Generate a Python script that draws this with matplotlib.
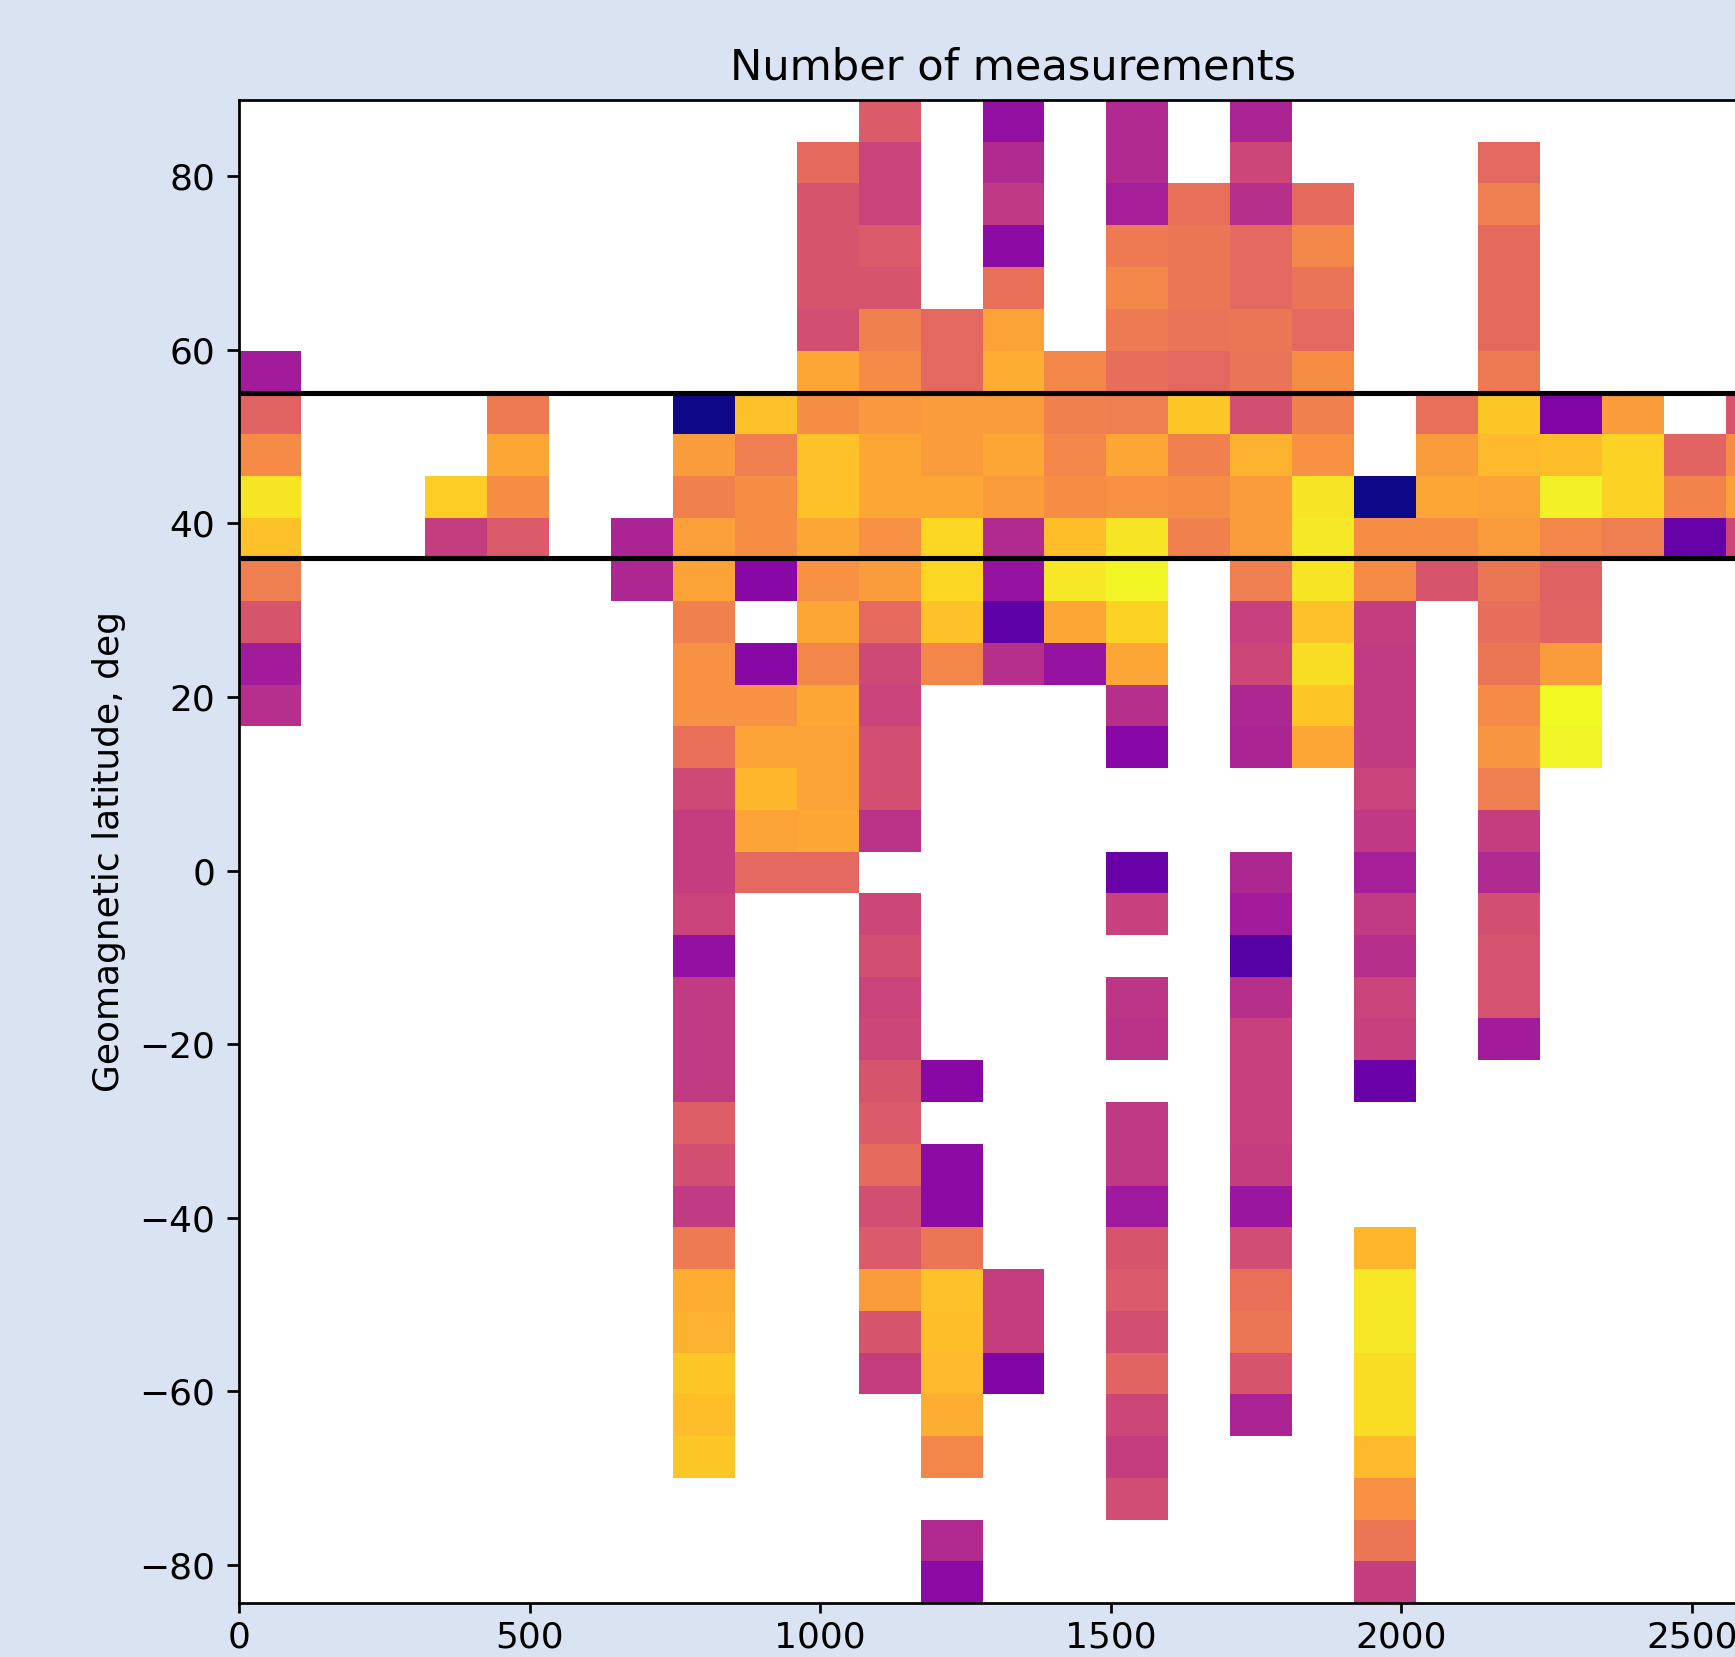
import numpy as np
import matplotlib.pyplot as plt

# colour level of each cell (plasma scale, 0 = fewest, 1 = most measurements)
# one list per longitude bin, 36 latitude bins listed from north to south
_ = None
col_00 = [_, _, _, _, _, _, .35, .60, .72, .95, .87, .68, .55, .35, .42, _, _, _,
          _, _, _, _, _, _, _, _, _, _, _, _, _, _, _, _, _, _]
col_01 = [_] * 36
col_02 = [_] * 36
col_03 = [_, _, _, _, _, _, _, _, _, .90, .47, _, _, _, _, _, _, _,
          _, _, _, _, _, _, _, _, _, _, _, _, _, _, _, _, _, _]
col_04 = [_, _, _, _, _, _, _, .67, .80, .73, .57, _, _, _, _, _, _, _,
          _, _, _, _, _, _, _, _, _, _, _, _, _, _, _, _, _, _]
col_05 = [_] * 36
col_06 = [_, _, _, _, _, _, _, _, _, _, .38, .39, _, _, _, _, _, _,
          _, _, _, _, _, _, _, _, _, _, _, _, _, _, _, _, _, _]
col_07 = [_, _, _, _, _, _, _, .00, .77, .69, .78, .79, .69, .74, .74, .64, .51, .47,
          .47, .49, .31, .46, .46, .46, .58, .53, .46, .67, .82, .83, .88, .86, .88, _, _, _]
col_08 = [_, _, _, _, _, _, _, .87, .68, .73, .73, .28, _, .28, .74, .79, .84, .79,
          .61, _, _, _, _, _, _, _, _, _, _, _, _, _, _, _, _, _]
col_09 = [_, .62, .55, .55, .55, .53, .80, .73, .87, .87, .80, .74, .80, .71, .80, .79, .79, .80,
          .61, _, _, _, _, _, _, _, _, _, _, _, _, _, _, _, _, _]
col_10 = [.57, .49, .49, .57, .55, .69, .72, .76, .80, .80, .74, .77, .62, .51, .49, .53, .53, .43,
          _, .50, .53, .49, .50, .55, .57, .62, .53, .57, .77, .55, .47, _, _, _, _, _]
col_11 = [_, _, _, _, _, .61, .61, .77, .77, .80, .92, .92, .87, .71, _, _, _, _,
          _, _, _, _, _, .28, _, .29, .29, .66, .87, .86, .85, .82, .71, _, .40, .29]
col_12 = [.31, .40, .45, .29, .64, .79, .82, .77, .80, .77, .40, .32, .17, .42, _, _, _, _,
          _, _, _, _, _, _, _, _, _, _, .47, .47, .26, _, _, _, _, _]
col_13 = [_, _, _, _, _, _, .71, .69, .71, .73, .86, .96, .80, .32, _, _, _, _,
          _, _, _, _, _, _, _, _, _, _, _, _, _, _, _, _, _, _]
col_14 = [.40, .40, .36, .67, .71, .67, .63, .68, .80, .74, .95, .99, .91, .80, .42, .28, _, _,
          .20, .48, _, .44, .43, _, .45, .45, .34, .55, .57, .53, .60, .50, .47, .52, _, _]
col_15 = [_, _, .64, .66, .66, .65, .61, .88, .69, .73, .69, _, _, _, _, _, _, _,
          _, _, _, _, _, _, _, _, _, _, _, _, _, _, _, _, _, _]
col_16 = [.38, .50, .42, .61, .61, .66, .65, .53, .83, .77, .77, .68, .48, .50, .39, .38, _, _,
          .39, .35, .15, .42, .48, .48, .48, .47, .33, .52, .64, .66, .55, .38, _, _, _, _]
col_17 = [_, _, .62, .71, .65, .61, .73, .69, .74, .95, .96, .95, .87, .93, .88, .80, _, _,
          _, _, _, _, _, _, _, _, _, _, _, _, _, _, _, _, _, _]
col_18 = [_, _, _, _, _, _, _, _, _, .00, .73, .72, .47, .46, .46, .46, .49, .45,
          .36, .46, .42, .49, .48, .20, _, _, _, .84, .96, .96, .93, .93, .85, .74, .66, .47]
col_19 = [_, _, _, _, _, _, _, .64, .77, .80, .73, .55, _, _, _, _, _, _,
          _, _, _, _, _, _, _, _, _, _, _, _, _, _, _, _, _, _]
col_20 = [_, .61, .68, .62, .62, .62, .67, .88, .85, .79, .77, .66, .63, .66, .72, .75, .68, .47,
          .40, .53, .54, .54, .35, _, _, _, _, _, _, _, _, _, _, _, _, _]
col_21 = [_, _, _, _, _, _, _, .26, .86, .98, .71, .59, .60, .77, 1.0, .99, _, _,
          _, _, _, _, _, _, _, _, _, _, _, _, _, _, _, _, _, _]
col_22 = [_, _, _, _, _, _, _, .77, .91, .91, .68, _, _, _, _, _, _, _,
          _, _, _, _, _, _, _, _, _, _, _, _, _, _, _, _, _, _]
col_23 = [_, _, _, _, _, _, _, _, .60, .70, .19, _, _, _, _, _, _, _,
          _, _, _, _, _, _, _, _, _, _, _, _, _, _, _, _, _, _]
col_24 = [_, _, _, _, _, _, _, .55, .72, .78, .50, _, _, _, _, _, _, _,
          _, _, _, _, _, _, _, _, _, _, _, _, _, _, _, _, _, _]

columns = [col_00, col_01, col_02, col_03, col_04, col_05, col_06, col_07, col_08,
           col_09, col_10, col_11, col_12, col_13, col_14, col_15, col_16, col_17,
           col_18, col_19, col_20, col_21, col_22, col_23, col_24]

# bin edges of the 2D histogram
x_edges = np.linspace(0, 2665, 26)
lat_edges = np.linspace(-84.4, 88.8, 37)

# band limits drawn as black lines
band_lat = [55, 36]

# build grid (rows south -> north for pcolormesh)
grid = np.array([[np.nan if v is None else v for v in col] for col in columns]).T
grid = np.ma.masked_invalid(grid[::-1, :])

plt.rcParams['font.size'] = 10.6
plt.rcParams['xtick.major.size'] = 3.0
plt.rcParams['xtick.major.pad'] = 2.0

W, H, DPI = 1735, 1657, 245
fig = plt.figure(figsize=(W / DPI, H / DPI), dpi=DPI)
fig.patch.set_facecolor('#dae3f2')

ax = fig.add_axes([239 / W, 1 - 1603 / H, 1549 / W, 1503 / H])
ax.set_facecolor('white')
ax.pcolormesh(x_edges, lat_edges, grid, cmap='plasma', vmin=0, vmax=1)

for lat in band_lat:
    ax.axhline(lat, color='black', lw=1.5)

ax.set_xlim(x_edges[0], x_edges[-1])
ax.set_ylim(lat_edges[0], lat_edges[-1])
ax.set_title('Number of measurements')
ax.set_ylabel('Geomagnetic latitude, deg')

fig.savefig('out.png', dpi=DPI, facecolor=fig.get_facecolor())
